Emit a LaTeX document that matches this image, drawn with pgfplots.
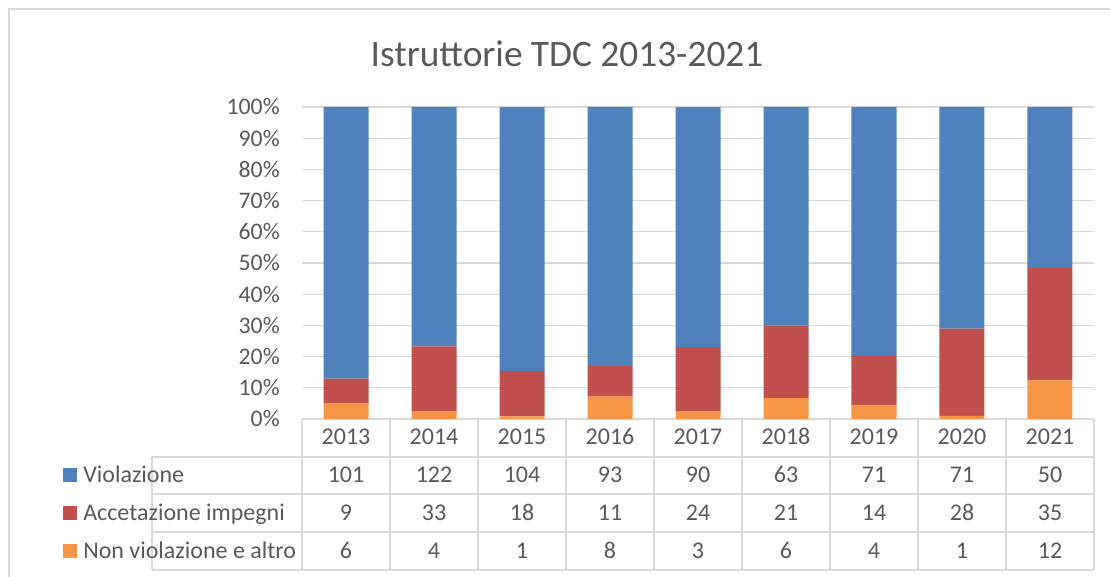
\documentclass[border=0pt]{standalone}
\usepackage{fontspec}
\setmainfont{Carlito}
\usepackage{pgfplots}
\pgfplotsset{compat=1.18}
\definecolor{cV}{HTML}{4F81BD}
\definecolor{cA}{HTML}{C0504D}
\definecolor{cN}{HTML}{F79646}
\definecolor{txt}{HTML}{595959}
\definecolor{gridc}{HTML}{D9D9D9}

\begin{document}
\begin{tikzpicture}
\begin{axis}[
  at={(226.5pt,118.5pt)}, anchor=south west,
  scale only axis, width=594pt, height=234pt,
  ybar stacked, bar width=33.75pt,
  xmin=-0.5, xmax=8.5, ymin=0, ymax=100,
  xtick=\empty,
  ytick={0,10,20,30,40,50,60,70,80,90,100},
  yticklabel={\pgfmathprintnumber{\tick}\%},
  axis line style={draw=none},
  ymajorgrids, grid style={gridc, line width=0.9pt},
  major tick length=0pt,
  tick label style={font=\fontsize{17.8}{20}\selectfont, text=txt},
  yticklabel style={inner sep=0pt, xshift=-16.5pt},
  /pgf/number format/assume math mode=true,
  clip=false,
]
% shares (%) of each year's total, from the counts in the table
% Non violazione e altro
\addplot[fill=cN, draw=none] coordinates {
  (0,5.17) (1,2.52) (2,0.81) (3,7.14) (4,2.56) (5,6.67) (6,4.49) (7,1.00) (8,12.37)};
% Accetazione impegni
\addplot[fill=cA, draw=none] coordinates {
  (0,7.76) (1,20.75) (2,14.63) (3,9.82) (4,20.51) (5,23.33) (6,15.73) (7,28.00) (8,36.08)};
% Violazione
\addplot[fill=cV, draw=none] coordinates {
  (0,87.07) (1,76.73) (2,84.55) (3,83.04) (4,76.92) (5,70.00) (6,79.78) (7,71.00) (8,51.55)};
\end{axis}

% overlay in pixel units of the reference (origin top left)
\begin{scope}[x=0.75pt, y=-0.75pt, yshift=432.75pt]
  \path[use as bounding box] (0,0) rectangle (1110,577);
  \draw[gridc, line width=0.9pt] (9,577) -- (9,9) -- (1110,9);
  \node[txt, font=\fontsize{28}{32}\selectfont] at (567,54) {Istruttorie TDC 2013-2021};

  % data table grid
  \begin{scope}[gridc, line width=1.1pt]
    \foreach \k in {0,...,9} \draw ({302+88*\k},419) -- ({302+88*\k},570);
    \foreach \yy in {457,494,532,570} \draw (152,\yy) -- (1094,\yy);
    \draw (152,457) -- (152,570);
  \end{scope}

  \begin{scope}[every node/.style={text=txt, font=\fontsize{18}{20}\selectfont, anchor=mid}]
    \foreach \yr [count=\i from 0] in {2013,2014,2015,2016,2017,2018,2019,2020,2021}
      \node at ({346+88*\i},441) {\yr};
    \foreach \v [count=\i from 0] in {101,122,104,93,90,63,71,71,50}
      \node at ({346+88*\i},479) {\v};
    \foreach \v [count=\i from 0] in {9,33,18,11,24,21,14,28,35}
      \node at ({346+88*\i},517) {\v};
    \foreach \v [count=\i from 0] in {6,4,1,8,3,6,4,1,12}
      \node at ({346+88*\i},555) {\v};
    \fill[cV] (63,468) rectangle (77,482);
    \fill[cA] (63,506) rectangle (77,520);
    \fill[cN] (63,544) rectangle (77,558);
    \node[anchor=mid west, inner sep=0pt] at (83,479) {Violazione};
    \node[anchor=mid west, inner sep=0pt] at (83,517) {Accetazione impegni};
    \node[anchor=mid west, inner sep=0pt] at (83,555) {Non violazione e altro};
  \end{scope}
\end{scope}
\end{tikzpicture}
\end{document}
